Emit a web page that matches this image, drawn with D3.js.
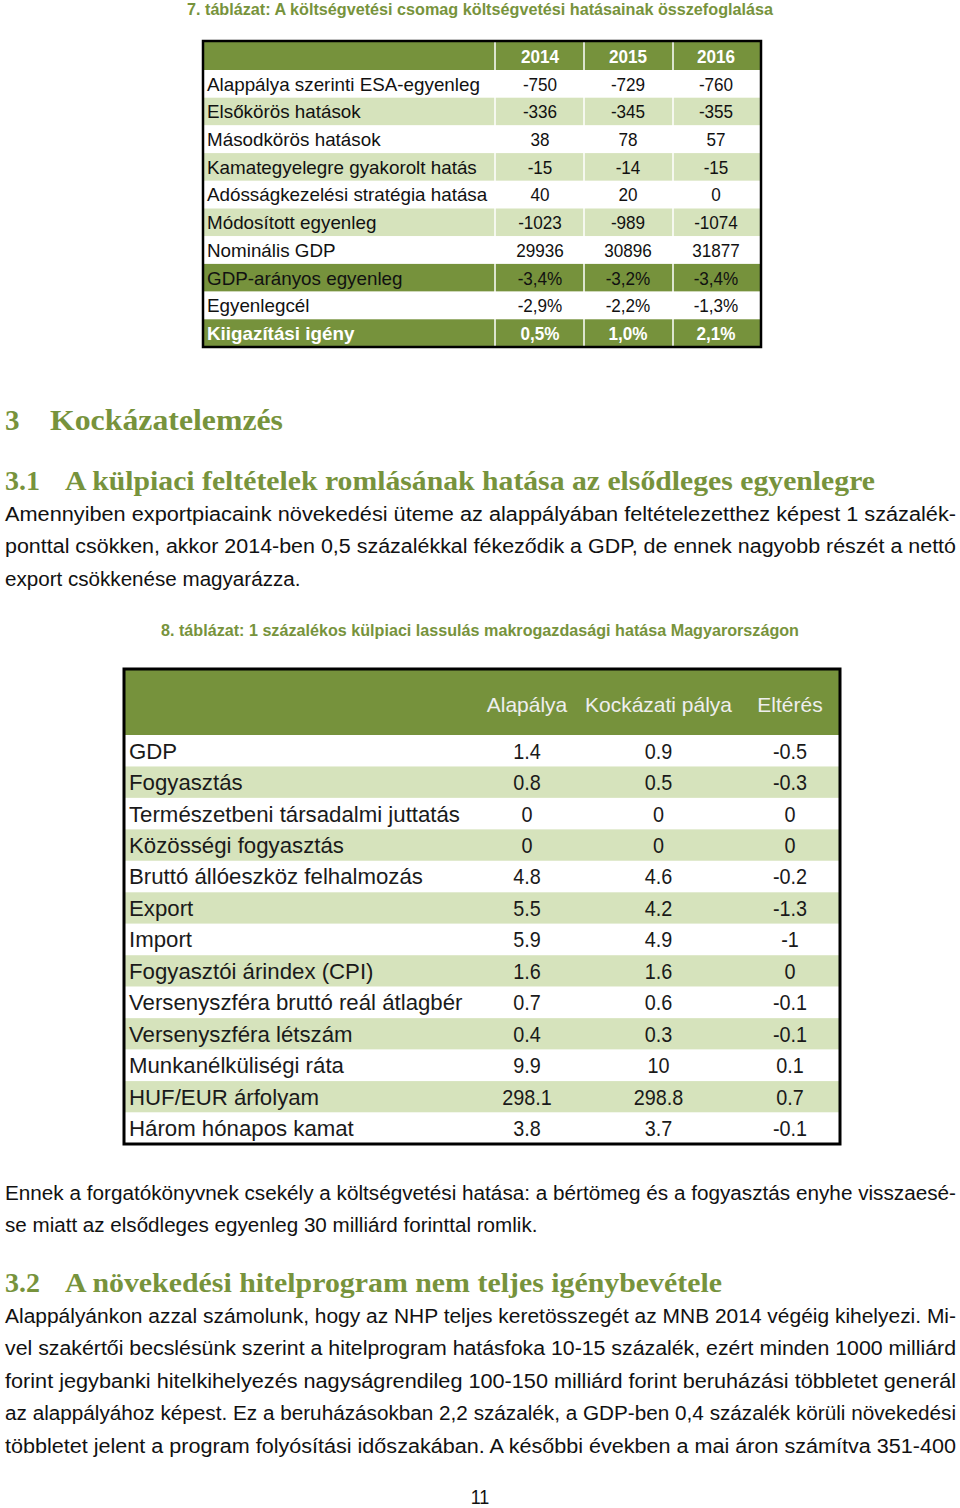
<!DOCTYPE html>
<html><head><meta charset="utf-8">
<script src="https://cdn.jsdelivr.net/npm/d3@7"></script>
<style>
body{margin:0;background:#fff;}
svg{display:block;}
.sans{font-family:"Liberation Sans","Noto Sans",sans-serif;}
.serif{font-family:"Liberation Serif","DejaVu Serif",serif;}
</style></head>
<body>
<script>
// ---------- DATA ----------
const caption1 = "7. táblázat: A költségvetési csomag költségvetési hatásainak összefoglalása";
const t1Years = ["2014", "2015", "2016"];
const t1Labels = ["Alappálya szerinti ESA-egyenleg", "Elsőkörös hatások", "Másodkörös hatások",
  "Kamategyelegre gyakorolt hatás", "Adósságkezelési stratégia hatása", "Módosított egyenleg",
  "Nominális GDP", "GDP-arányos egyenleg", "Egyenlegcél", "Kiigazítási igény"];
const t1v2014 = ["-750", "-336", "38", "-15", "40", "-1023", "29936", "-3,4%", "-2,9%", "0,5%"];
const t1v2015 = ["-729", "-345", "78", "-14", "20", "-989", "30896", "-3,2%", "-2,2%", "1,0%"];
const t1v2016 = ["-760", "-355", "57", "-15", "0", "-1074", "31877", "-3,4%", "-1,3%", "2,1%"];
const t1RowStyle = ["w", "l", "w", "l", "w", "l", "w", "d", "w", "D"];

const heading3 = ["3", "Kockázatelemzés"];
const heading31 = ["3.1", "A külpiaci feltételek romlásának hatása az elsődleges egyenlegre"];
const para1 = [
  "Amennyiben exportpiacaink növekedési üteme az alappályában feltételezetthez képest 1 százalék-",
  "ponttal csökken, akkor 2014-ben 0,5 százalékkal fékeződik a GDP, de ennek nagyobb részét a nettó",
  "export csökkenése magyarázza."];
const caption2 = "8. táblázat: 1 százalékos külpiaci lassulás makrogazdasági hatása Magyarországon";
const t2Cols = ["Alapálya", "Kockázati pálya", "Eltérés"];
const t2Labels = ["GDP", "Fogyasztás", "Természetbeni társadalmi juttatás", "Közösségi fogyasztás",
  "Bruttó állóeszköz felhalmozás", "Export", "Import", "Fogyasztói árindex (CPI)",
  "Versenyszféra bruttó reál átlagbér", "Versenyszféra létszám", "Munkanélküliségi ráta",
  "HUF/EUR árfolyam", "Három hónapos kamat"];
const t2Alap = ["1.4", "0.8", "0", "0", "4.8", "5.5", "5.9", "1.6", "0.7", "0.4", "9.9", "298.1", "3.8"];
const t2Kock = ["0.9", "0.5", "0", "0", "4.6", "4.2", "4.9", "1.6", "0.6", "0.3", "10", "298.8", "3.7"];
const t2Elt = ["-0.5", "-0.3", "0", "0", "-0.2", "-1.3", "-1", "0", "-0.1", "-0.1", "0.1", "0.7", "-0.1"];
const para2 = [
  "Ennek a forgatókönyvnek csekély a költségvetési hatása: a bértömeg és a fogyasztás enyhe visszaesé-",
  "se miatt az elsődleges egyenleg 30 milliárd forinttal romlik."];
const heading32 = ["3.2", "A növekedési hitelprogram nem teljes igénybevétele"];
const para3 = [
  "Alappályánkon azzal számolunk, hogy az NHP teljes keretösszegét az MNB 2014 végéig kihelyezi. Mi-",
  "vel szakértői becslésünk szerint a hitelprogram hatásfoka 10-15 százalék, ezért minden 1000 milliárd",
  "forint jegybanki hitelkihelyezés nagyságrendileg 100-150 milliárd forint beruházási többletet generál",
  "az alappályához képest. Ez a beruházásokban 2,2 százalék, a GDP-ben 0,4 százalék körüli növekedési",
  "többletet jelent a program folyósítási időszakában. A későbbi években a mai áron számítva 351-400"];
const pageNumber = "11";

// ---------- STYLE ----------
const DARK = "#76923c", LIGHT = "#d6e3bc", HEAD = "#77933c";
const W = 960, H = 1508;
const svg = d3.select("body").append("svg").attr("width", W).attr("height", H);

function fitText(sel, target) {
  sel.each(function () {
    d3.select(this).attr("textLength", target).attr("lengthAdjust", "spacingAndGlyphs");
  });
}
function scaleText(sel, k) {
  sel.each(function () {
    const w = this.getComputedTextLength();
    d3.select(this).attr("textLength", w * k).attr("lengthAdjust", "spacingAndGlyphs");
  });
}

// ---------- CAPTION 1 ----------
svg.append("text").attr("class", "sans").attr("x", 480).attr("y", 15)
  .attr("text-anchor", "middle").attr("font-size", 17).attr("font-weight", "bold")
  .attr("fill", HEAD).text(caption1).call(fitText, 586);

// ---------- TABLE 1 ----------
const t1 = svg.append("g");
const t1Left = 203, t1Right = 761;
const t1Y = d3.scaleBand().domain(t1Labels).range([70, 347]);
const t1ColX = d3.scalePoint().domain(t1Years).range([540, 716]);
const t1Bounds = [495, 584, 673];
const t1Vals = { "2014": t1v2014, "2015": t1v2015, "2016": t1v2016 };
const fillFor = s => s === "l" ? LIGHT : (s === "d" || s === "D") ? DARK : "#fff";

t1.append("rect").attr("x", t1Left).attr("y", 41).attr("width", t1Right - t1Left).attr("height", 29).attr("fill", DARK);
t1.selectAll("rect.row").data(t1Labels).join("rect").attr("class", "row")
  .attr("x", t1Left).attr("y", d => t1Y(d)).attr("width", t1Right - t1Left)
  .attr("height", t1Y.bandwidth()).attr("fill", (d, i) => fillFor(t1RowStyle[i]));
t1.selectAll("line.sep").data(t1Bounds).join("line").attr("class", "sep")
  .attr("x1", d => d).attr("x2", d => d).attr("y1", 41).attr("y2", 347)
  .attr("stroke", "#fff").attr("stroke-width", 1.5);
t1.selectAll("text.yr").data(t1Years).join("text").attr("class", "sans yr")
  .attr("x", d => t1ColX(d)).attr("y", 56).attr("dy", "0.36em").attr("text-anchor", "middle")
  .attr("font-size", 19).attr("font-weight", "bold").attr("fill", "#fff").text(d => d).call(scaleText, 0.9);
t1.selectAll("text.lab").data(t1Labels).join("text").attr("class", "sans lab")
  .attr("x", 207).attr("y", d => t1Y(d) + t1Y.bandwidth() / 2).attr("dy", "0.36em")
  .attr("font-size", 19)
  .attr("font-weight", (d, i) => t1RowStyle[i] === "D" ? "bold" : "normal")
  .attr("fill", (d, i) => t1RowStyle[i] === "D" ? "#fff" : "#111").text(d => d).call(scaleText, 0.99);
t1Years.forEach(yr => {
  t1.selectAll("text.v" + yr).data(t1Vals[yr]).join("text").attr("class", "sans v" + yr)
    .attr("x", t1ColX(yr)).attr("y", (d, i) => t1Y(t1Labels[i]) + t1Y.bandwidth() / 2).attr("dy", "0.36em")
    .attr("text-anchor", "middle").attr("font-size", 19)
    .attr("font-weight", (d, i) => t1RowStyle[i] === "D" ? "bold" : "normal")
    .attr("fill", (d, i) => t1RowStyle[i] === "D" ? "#fff" : "#111").text(d => d).call(scaleText, 0.9);
});
t1.append("rect").attr("x", t1Left).attr("y", 41).attr("width", t1Right - t1Left).attr("height", 306)
  .attr("fill", "none").attr("stroke", "#000").attr("stroke-width", 2.5);

// ---------- HEADINGS ----------
function heading(h, y, size, titleX, titleW) {
  svg.append("text").attr("class", "serif").attr("x", 5).attr("y", y).attr("font-size", size)
    .attr("font-weight", "bold").attr("fill", HEAD).text(h[0]);
  svg.append("text").attr("class", "serif").attr("x", titleX).attr("y", y).attr("font-size", size)
    .attr("font-weight", "bold").attr("fill", HEAD).text(h[1]).call(fitText, titleW);
}
heading(heading3, 430, 29, 50, 233);
heading(heading31, 490, 28, 65, 810);
heading(heading32, 1292, 28, 65, 657);

// ---------- PARAGRAPHS ----------
function paragraph(lines, y0, lastJustified) {
  lines.forEach((ln, i) => {
    const t = svg.append("text").attr("class", "sans").attr("x", 5).attr("y", y0 + i * 32.4)
      .attr("font-size", 20).attr("fill", "#111").text(ln);
    if (i < lines.length - 1 || lastJustified) t.call(fitText, 951);
    else t.call(scaleText, 1.03);
  });
}
paragraph(para1, 521, false);
paragraph(para2, 1200, false);
paragraph(para3, 1323, true);

// ---------- CAPTION 2 ----------
svg.append("text").attr("class", "sans").attr("x", 480).attr("y", 636)
  .attr("text-anchor", "middle").attr("font-size", 17).attr("font-weight", "bold")
  .attr("fill", HEAD).text(caption2).call(fitText, 638);

// ---------- TABLE 2 ----------
const t2 = svg.append("g");
const t2Left = 124, t2Right = 840;
const t2Y = d3.scaleBand().domain(t2Labels).range([735, 1144]);
const t2ColX = d3.scalePoint().domain(t2Cols).range([527, 790]);
const t2Vals = [t2Alap, t2Kock, t2Elt];
t2.append("rect").attr("x", t2Left).attr("y", 669).attr("width", t2Right - t2Left).attr("height", 66).attr("fill", DARK);
t2.selectAll("rect.row").data(t2Labels).join("rect").attr("class", "row")
  .attr("x", t2Left).attr("y", d => t2Y(d)).attr("width", t2Right - t2Left)
  .attr("height", t2Y.bandwidth()).attr("fill", (d, i) => i % 2 ? LIGHT : "#fff");
t2.selectAll("text.hd").data(t2Cols).join("text").attr("class", "sans hd")
  .attr("x", d => t2ColX(d)).attr("y", 704).attr("dy", "0.36em").attr("text-anchor", "middle")
  .attr("font-size", 21).attr("fill", "#eeeeee").text(d => d).call(scaleText, 1.0);
t2.selectAll("text.lab").data(t2Labels).join("text").attr("class", "sans lab")
  .attr("x", 129).attr("y", d => t2Y(d) + t2Y.bandwidth() / 2).attr("dy", "0.36em")
  .attr("font-size", 22).attr("fill", "#1a1a1a").text(d => d).call(scaleText, 1.01);
t2Cols.forEach((c, ci) => {
  t2.selectAll("text.c" + ci).data(t2Vals[ci]).join("text").attr("class", "sans c" + ci)
    .attr("x", t2ColX(c)).attr("y", (d, i) => t2Y(t2Labels[i]) + t2Y.bandwidth() / 2).attr("dy", "0.36em")
    .attr("text-anchor", "middle").attr("font-size", 22).attr("fill", "#1a1a1a").text(d => d).call(scaleText, 0.9);
});
t2.append("rect").attr("x", t2Left).attr("y", 669).attr("width", t2Right - t2Left).attr("height", 475)
  .attr("fill", "none").attr("stroke", "#000").attr("stroke-width", 3);

// ---------- PAGE NUMBER ----------
svg.append("text").attr("class", "sans").attr("x", 480).attr("y", 1504).attr("text-anchor", "middle")
  .attr("font-size", 20).attr("fill", "#111").text(pageNumber).call(scaleText, 0.9);
</script>
</body></html>
